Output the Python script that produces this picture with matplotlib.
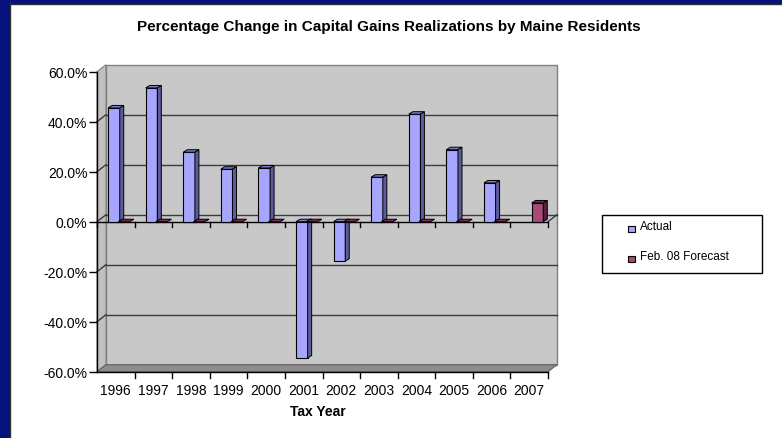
import numpy as np
import matplotlib
matplotlib.use("Agg")
import matplotlib.pyplot as plt
from matplotlib.patches import Polygon, Rectangle
from matplotlib.lines import Line2D
import matplotlib.transforms as mtransforms

plt.rcParams['font.family'] = ['Liberation Sans', 'DejaVu Sans']

years = ['1996', '1997', '1998', '1999', '2000', '2001', '2002', '2003', '2004', '2005', '2006', '2007']
actual = [45.5, 53.5, 27.8, 21.0, 21.5, -54.5, -15.8, 17.8, 43.0, 28.8, 15.5, np.nan]
forecast = [0, 0, 0, 0, 0, 0, 0, 0, 0, 0, 0, 7.5]
yticks = [-60, -40, -20, 0, 20, 40, 60]

W, H = 782, 439
fig = plt.figure(figsize=(W / 100, H / 100), dpi=100)
fig.patch.set_facecolor('white')

# frame border (navy, left and top)
navy = '#06127c'
fig.patches.append(Rectangle((0, 0), 9 / W, 1, transform=fig.transFigure, color=navy, zorder=0))
fig.patches.append(Rectangle((0, 1 - 4 / H), 1, 4 / H, transform=fig.transFigure, color=navy, zorder=0))
fig.lines.append(Line2D([9.5 / W, 9.5 / W], [0, 1 - 4 / H], transform=fig.transFigure, color='#303030', lw=1))
fig.lines.append(Line2D([9.5 / W, 1], [1 - 4.5 / H, 1 - 4.5 / H], transform=fig.transFigure, color='#303030', lw=1))

# axes = front plane
L, R, T, B = 97, 548, 72.7, 372.7
ax = fig.add_axes([L / W, (H - B) / H, (R - L) / W, (B - T) / H])
ax.set_xlim(-0.5, len(years) - 0.5)
ax.set_ylim(-60, 60)
ax.set_facecolor('none')
for s in ['top', 'right']:
    ax.spines[s].set_visible(False)
ax.spines['left'].set_color('black')
ax.spines['bottom'].set_color('black')
ax.spines['left'].set_linewidth(1.0)
ax.spines['bottom'].set_linewidth(1.0)

DX, DY = 9, 7  # wall depth in pixels

def disp(x, y):
    return ax.transData.transform((x, y))

ident = mtransforms.IdentityTransform()

# back wall, side wall, floor
x0, x1 = -0.5, len(years) - 0.5
bl = disp(x0, -60); br = disp(x1, -60); tl = disp(x0, 60); tr = disp(x1, 60)
wall = Polygon([bl + [DX, DY], br + [DX, DY], tr + [DX, DY], tl + [DX, DY]], closed=True,
               facecolor='#c8c8c8', edgecolor='#808080', lw=1, transform=ident, zorder=0.5, clip_on=False)
ax.add_patch(wall)
side = Polygon([bl, bl + [DX, DY], tl + [DX, DY], tl], closed=True,
               facecolor='#c0c0c0', edgecolor='#808080', lw=0.8, transform=ident, zorder=0.6, clip_on=False)
ax.add_patch(side)
floor = Polygon([bl, br, br + [DX, DY], bl + [DX, DY]], closed=True,
                facecolor='#8c8c8c', edgecolor='#606060', lw=0.8, transform=ident, zorder=0.7, clip_on=False)
ax.add_patch(floor)

# gridlines on back wall and left side wall
for yv in yticks[1:-1]:
    p0 = disp(x0, yv); p1 = disp(x1, yv)
    ax.add_line(Line2D([p0[0] + DX, p1[0] + DX], [p0[1] + DY, p1[1] + DY], color='#3a3a3a', lw=1.0,
                       transform=ident, zorder=0.8, clip_on=False))
    ax.add_line(Line2D([p0[0], p0[0] + DX], [p0[1], p0[1] + DY], color='#3a3a3a', lw=1.0,
                       transform=ident, zorder=0.8, clip_on=False))

# category axis at zero (front)
ax.axhline(0, color='black', lw=1.0, zorder=1)
p1 = disp(x1, 0)
ax.add_line(Line2D([p1[0], p1[0] + DX], [p1[1], p1[1] + DY], color='#3a3a3a', lw=1.0, transform=ident,
                   zorder=0.8, clip_on=False))
for b in np.arange(len(years) + 1) - 0.5:
    p = disp(b, 0)
    ax.add_line(Line2D([p[0], p[0]], [p[1], p[1] - 5], color='black', lw=1.0, transform=ident, zorder=1, clip_on=False))
    if b > x0:
        q = disp(b, -60)
        ax.add_line(Line2D([q[0], q[0]], [q[1], q[1] - 6], color='black', lw=1.0, transform=ident, zorder=1, clip_on=False))

# bars
xs = np.arange(len(years))
bw = 0.31
off_a, off_f = -0.05, 0.22
BDX, BDY = 4, 2.5

def bar3d(centers, vals, front, sidec, topc):
    bars = ax.bar(centers, vals, width=bw, color=front, edgecolor='black', lw=0.8, zorder=3)
    for c, v in zip(centers, vals):
        if np.isnan(v):
            continue
        xl, xr = c - bw / 2, c + bw / 2
        ytop, ybot = max(v, 0), min(v, 0)
        a = disp(xl, ytop); b_ = disp(xr, ytop); d = disp(xr, ybot)
        top = Polygon([a, b_, b_ + [BDX, BDY], a + [BDX, BDY]], closed=True, facecolor=topc,
                      edgecolor='black', lw=0.7, transform=ident, zorder=3, clip_on=False)
        ax.add_patch(top)
        if ytop != ybot:
            sd = Polygon([d, b_, b_ + [BDX, BDY], d + [BDX, BDY]], closed=True, facecolor=sidec,
                         edgecolor='black', lw=0.7, transform=ident, zorder=3, clip_on=False)
            ax.add_patch(sd)
    return bars

bar3d(xs + off_a, actual, '#a6a6ff', '#5c5c9c', '#7c7cc8')
bar3d(xs + off_f, forecast, '#a8497a', '#5a2040', '#7a2e56')

# y axis ticks
ax.set_yticks(yticks)
ax.set_yticklabels([f'{v:.1f}%' for v in yticks], fontsize=10)
ax.tick_params(axis='y', length=6, width=1, pad=1, direction='out')
# x labels centered on categories, no tick marks (ticks drawn at boundaries)
ax.set_xticks(xs)
ax.set_xticklabels(years, fontsize=10)
ax.tick_params(axis='x', length=0, pad=8)

# title and axis title
fig.text(389 / W, 1 - 27 / H, 'Percentage Change in Capital Gains Realizations by Maine Residents',
         ha='center', va='center', fontsize=11, fontweight='bold')
fig.text(318 / W, 1 - 412 / H, 'Tax Year', ha='center', va='center', fontsize=10, fontweight='bold')

# legend (manual box)
fig.patches.append(Rectangle((601.5 / W, 1 - 274 / H), 160 / W, 58 / H, transform=fig.transFigure,
                             facecolor='white', edgecolor='black', lw=1))
for yy, lab, fc in [(229.5, 'Actual', '#a6a6ff'), (259.5, 'Feb. 08 Forecast', '#a8497a')]:
    fig.patches.append(Rectangle((628 / W, 1 - (yy + 3) / H), 6.5 / W, 6 / H, transform=fig.transFigure,
                                 facecolor=fc, edgecolor='black', lw=0.8))
    fig.text(640 / W, 1 - (yy - 2.5) / H, lab, ha='left', va='center', fontsize=8.5)

fig.savefig('out.png', dpi=100, facecolor='white')
